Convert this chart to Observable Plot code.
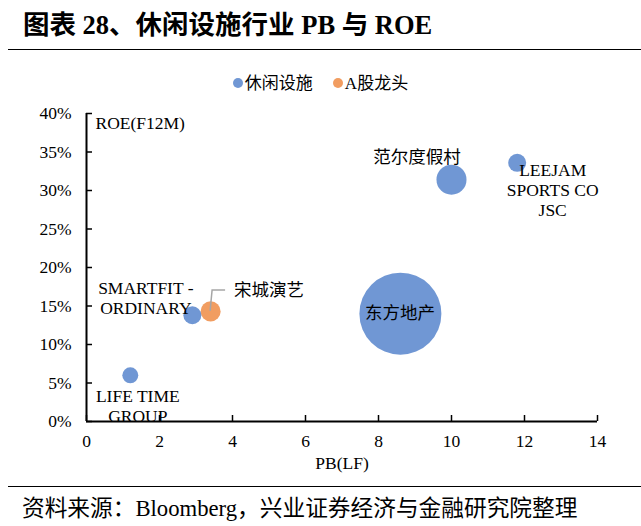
<!DOCTYPE html>
<html>
<head>
<meta charset="utf-8">
<script src="https://cdn.jsdelivr.net/npm/d3@7"></script>
<script src="https://cdn.jsdelivr.net/npm/@observablehq/plot@0.6"></script>
<style>
  html, body { margin: 0; padding: 0; background: #fff; }
  #wrap { position: relative; width: 641px; height: 526px; overflow: hidden;
          font-family: "Liberation Serif", "Noto Sans CJK SC", serif; color: #000; }
  #title { position: absolute; left: 23px; top: 3px; font-size: 26.5px; font-weight: bold; white-space: nowrap; }
  #rule1 { position: absolute; left: 8px; right: 0; top: 49px; border-top: 1.5px solid #000; }
  #legend { position: absolute; left: 0; width: 641px; top: 69px; text-align: center; font-size: 17px; white-space: nowrap; }
  #legend span.item { margin: 0 10px; }
  #legend i { display: inline-block; width: 10px; height: 10px; border-radius: 50%; margin-right: 2px; vertical-align: 1px; }
  #chart { position: absolute; left: 0; top: 95px; }
  #rule2 { position: absolute; left: 8px; right: 0; top: 486px; border-top: 1.5px solid #000; }
  #caption { position: absolute; left: 22px; top: 490px; font-size: 22.7px; white-space: nowrap; }
</style>
</head>
<body>
<div id="wrap">
  <div id="title">图表 28、休闲设施行业 PB 与 ROE</div>
  <div id="rule1"></div>
  <div id="legend"></div>
  <div id="chart"></div>
  <div id="rule2"></div>
  <div id="caption">资料来源：Bloomberg，兴业证券经济与金融研究院整理</div>
</div>
<script>
// ---- data ----
const names = ["LIFE TIME\nGROUP", "SMARTFIT -\nORDINARY", "宋城演艺", "东方地产", "范尔度假村", "LEEJAM\nSPORTS CO\nJSC"];
const pb = [1.2, 2.9, 3.4, 8.6, 10.0, 11.8];
const roe = [0.060, 0.138, 0.143, 0.140, 0.314, 0.336];
const bubbleSize = [3.8, 4.8, 6.0, 100, 13.4, 4.8];
const group = ["休闲设施", "休闲设施", "A股龙头", "休闲设施", "休闲设施", "休闲设施"];
const seriesNames = ["休闲设施", "A股龙头"];
const xTicks = [0, 2, 4, 6, 8, 10, 12, 14];
const yTicks = [0, 0.05, 0.10, 0.15, 0.20, 0.25, 0.30, 0.35, 0.40];

// ---- layout / style (kept separate from data) ----
const colors = ["#7097d4", "#f19d61"];
const labelOffsets = [
  {dx: 8, dy: 31, anchor: "middle"},
  {dx: -46, dy: -17, anchor: "middle"},
  {dx: 24, dy: -21, anchor: "start"},
  {dx: 0, dy: 0, anchor: "middle"},
  {dx: -34, dy: -22, anchor: "middle"},
  {dx: 36, dy: 28, anchor: "middle"}
];

const rows = names.map((n, i) => ({name: n, pb: pb[i], roe: roe[i], size: bubbleSize[i], group: group[i], ...labelOffsets[i]}));

const W = 641, H = 383;
const mL = 86, mR = 44, mT = 18, mB = 57;
const font = '"Liberation Serif", "Noto Sans CJK SC", serif';
const fs = 17.5;

const leader = (index, scales) => {
  const g = d3.create("svg:g");
  const r = rows[2];
  const px = scales.x(r.pb), py = scales.y(r.roe);
  g.append("polyline")
    .attr("points", `${px},${py} ${px + 2},${py - 21} ${px + 15},${py - 21}`)
    .attr("fill", "none").attr("stroke", "#a6a6a6").attr("stroke-width", 1.5);
  return g.node();
};

const plot = Plot.plot({
  width: W, height: H,
  marginLeft: mL, marginRight: mR, marginTop: mT, marginBottom: mB,
  style: {fontFamily: font, fontSize: fs + "px", color: "#000", background: "transparent"},
  x: {domain: [0, 14], ticks: xTicks},
  y: {domain: [0, 0.40], ticks: yTicks},
  r: {range: [0, 41], domain: [0, 100]},
  color: {domain: seriesNames, range: colors},
  marks: [
    Plot.axisX(xTicks, {tickSize: 0, tickPadding: 13, fontSize: fs, label: "PB(LF)", labelAnchor: "center", labelOffset: 47, labelArrow: "none"}),
    Plot.axisY(yTicks, {tickSize: 0, tickPadding: 15, fontSize: fs, tickFormat: d => Math.round(d * 100) + "%", label: null}),
    Plot.tickX(xTicks, {x: d => d, insetTop: H - mT - mB - 6, stroke: "#000", strokeWidth: 1.5}),
    Plot.tickY(yTicks, {y: d => d, insetRight: W - mL - mR - 6, stroke: "#000", strokeWidth: 1.5}),
    Plot.dot(rows, {x: "pb", y: "roe", r: "size", fill: "group", stroke: null, fillOpacity: 1}),
    leader,
    Plot.ruleX([0], {stroke: "#000", strokeWidth: 2}),
    Plot.ruleY([0], {stroke: "#000", strokeWidth: 2}),
    Plot.text(rows, {x: "pb", y: "roe", text: "name", fontSize: fs, fill: "#000",
      render: (index, scales, values) => {
        const g = d3.create("svg:g");
        for (const i of index) {
          const d = rows[i];
          const t = g.append("text")
            .attr("x", values.x[i] + d.dx)
            .attr("y", values.y[i] + d.dy)
            .attr("text-anchor", d.anchor)
            .attr("font-family", font)
            .attr("font-size", fs)
            .attr("fill", "#000");
          const lines = d.name.split("\n");
          const lh = 20;
          lines.forEach((ln, k) => {
            t.append("tspan")
              .attr("x", values.x[i] + d.dx)
              .attr("dy", k === 0 ? ((-(lines.length - 1) / 2) * lh + 6) : lh)
              .text(ln);
          });
        }
        return g.node();
      }}),
    Plot.text(["ROE(F12M)"], {frameAnchor: "top-left", dx: 9, dy: 3, fontSize: fs, textAnchor: "start", lineAnchor: "top", fill: "#000"})
  ]
});
document.getElementById("chart").appendChild(plot);

// legend
const lg = d3.select("#legend");
seriesNames.forEach((s, i) => {
  const it = lg.append("span").attr("class", "item");
  it.append("i").style("background", colors[i]);
  it.append("span").text(s);
});
</script>
</body>
</html>
